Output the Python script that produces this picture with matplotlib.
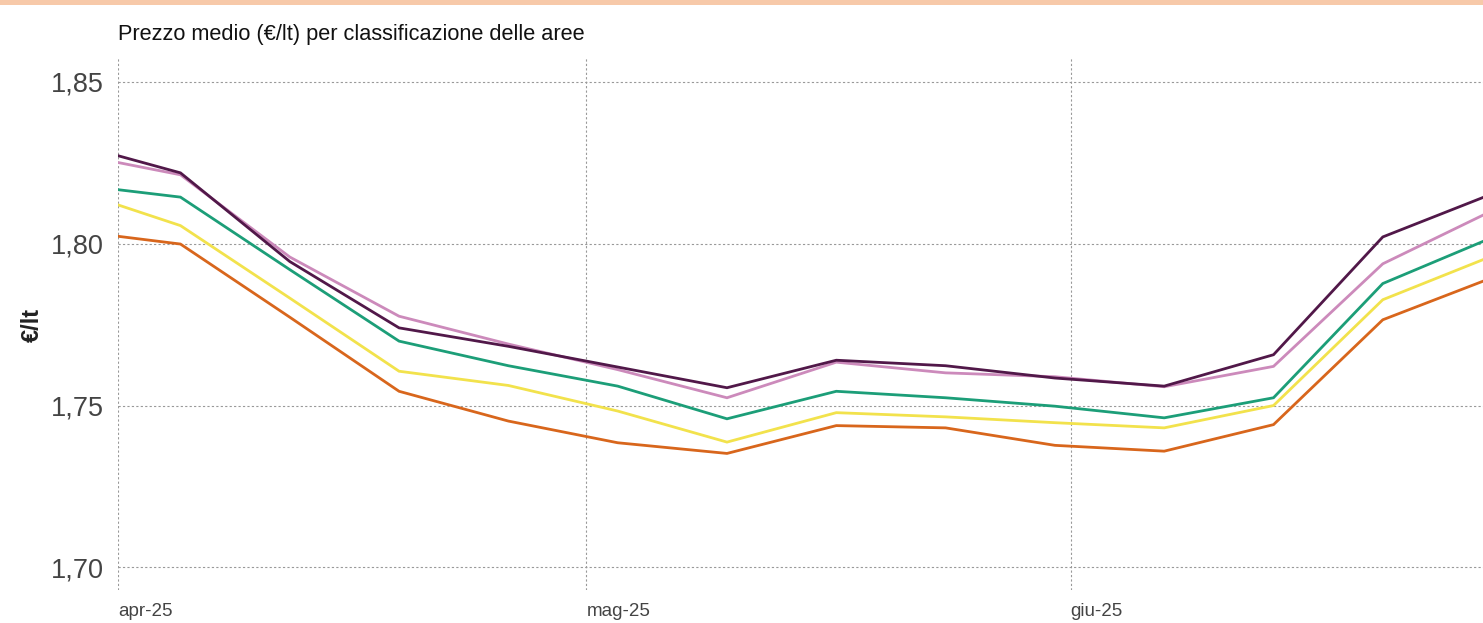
import datetime as dt
import matplotlib
matplotlib.use("Agg")
import matplotlib.pyplot as plt
from matplotlib.patches import Rectangle

# weekly survey dates (first point is the start of the month)
dates = [dt.date(2025, 4, 1), dt.date(2025, 4, 5), dt.date(2025, 4, 12), dt.date(2025, 4, 19),
         dt.date(2025, 4, 26), dt.date(2025, 5, 3), dt.date(2025, 5, 10), dt.date(2025, 5, 17),
         dt.date(2025, 5, 24), dt.date(2025, 5, 31), dt.date(2025, 6, 7), dt.date(2025, 6, 14),
         dt.date(2025, 6, 21), dt.date(2025, 6, 28)]

area_orange = [1.8023, 1.7999, 1.7773, 1.7544, 1.7452, 1.7385, 1.7352, 1.7438, 1.7431, 1.7377,
               1.7359, 1.7441, 1.7765, 1.7895]
area_yellow = [1.8120, 1.8056, 1.7832, 1.7606, 1.7562, 1.7483, 1.7387, 1.7478, 1.7465, 1.7447,
               1.7431, 1.7500, 1.7827, 1.7962]
area_green = [1.8167, 1.8144, 1.7920, 1.7699, 1.7623, 1.7560, 1.7459, 1.7544, 1.7524, 1.7498,
              1.7462, 1.7524, 1.7877, 1.8019]
area_pink = [1.8251, 1.8213, 1.7959, 1.7776, 1.7690, 1.7611, 1.7524, 1.7634, 1.7601, 1.7589,
             1.7558, 1.7621, 1.7938, 1.8102]
area_dark = [1.8272, 1.8219, 1.7945, 1.7740, 1.7683, 1.7619, 1.7555, 1.7640, 1.7623, 1.7585,
             1.7560, 1.7657, 1.8021, 1.8154]

month_ticks = [dt.date(2025, 4, 1), dt.date(2025, 5, 1), dt.date(2025, 6, 1)]
month_labels = ["apr-25", "mag-25", "giu-25"]
y_ticks = [1.70, 1.75, 1.80, 1.85]
y_labels = ["1,70", "1,75", "1,80", "1,85"]

plt.rcParams['font.family'] = ['Liberation Sans', 'DejaVu Sans']

W, H = 1483, 623
fig = plt.figure(figsize=(W / 100, H / 100), dpi=100)
fig.patch.set_facecolor('white')

# peach strip at the very top
fig.patches.append(Rectangle((0, 1 - 5 / H), 1, 5 / H, transform=fig.transFigure,
                             facecolor='#f7c9a9', edgecolor='none'))

ax = fig.add_axes([118 / W, 1 - 590 / H, 1 - 118 / W, (590 - 57) / H])

series = [
    (area_orange, '#d8661c'),
    (area_yellow, '#f2e24c'),
    (area_green, '#1c9e78'),
    (area_pink, '#cc8abb'),
    (area_dark, '#511849'),
]
for vals, col in series:
    ax.plot(dates, vals, color=col, lw=2.0, solid_joinstyle='miter', zorder=3)

ax.set_xlim(dt.date(2025, 4, 1), dt.datetime(2025, 6, 27, 10))
ax.set_ylim(1.6930, 1.8577)

ax.set_xticks(month_ticks)
ax.set_xticklabels(month_labels, ha='left', fontsize=13.5, color='#444444')
ax.set_yticks(y_ticks)
ax.set_yticklabels(y_labels, fontsize=19.5, color='#444444')
ax.tick_params(axis='both', length=0)
ax.tick_params(axis='x', pad=9)
ax.tick_params(axis='y', pad=10)

ax.grid(True, color='#999999', lw=0.8, linestyle=(0, (2, 2)))
for s in ax.spines.values():
    s.set_visible(False)

fig.text(118 / W, 1 - 40 / H, "Prezzo medio (€/lt) per classificazione delle aree",
         fontsize=15.7, color='#111111', va='baseline', ha='left')
fig.text(32 / W, 1 - 325 / H, "€/lt", rotation=90, fontsize=17, fontweight='bold',
         color='#222222', va='center', ha='center')

fig.savefig("out.png", dpi=100)
